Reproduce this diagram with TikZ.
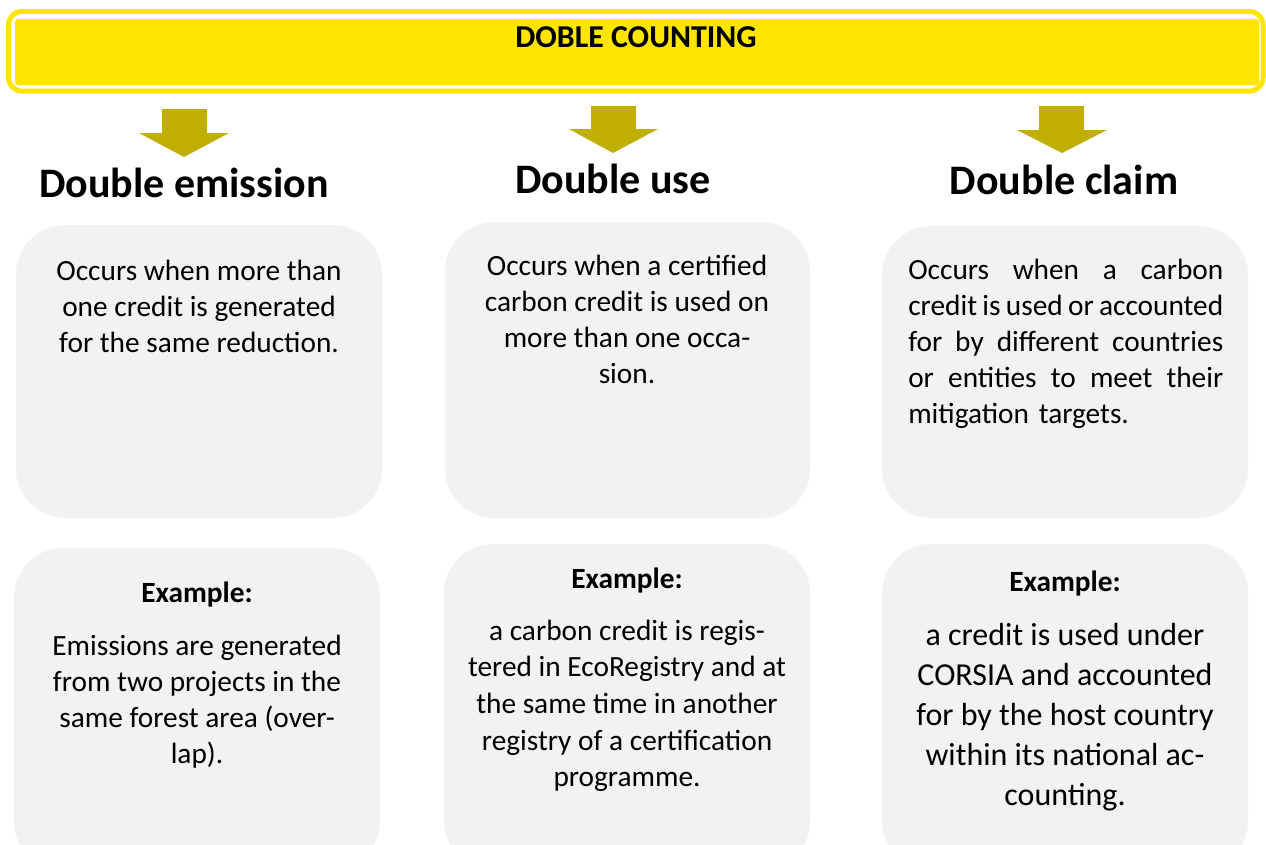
\documentclass[tikz,border=0pt]{standalone}
\usepackage{fontspec}
\setmainfont{Carlito}
\definecolor{banneryellow}{HTML}{FFE500}
\definecolor{arrowgold}{HTML}{C0AF00}
\definecolor{boxgray}{HTML}{F2F2F2}
\newcommand{\tightspaces}{\spaceskip=0.12em plus 1em\relax}
\newcommand{\fullline}[1]{\makebox[\linewidth][s]{\tightspaces #1}}
\tikzset{
  card/.style={fill=boxgray, rounded corners=37pt},
  bodytext/.style={anchor=base, text width=262pt, align=flush center, inner sep=0pt, font=\fontsize{22}{27}\selectfont},
  extext/.style={anchor=base, inner sep=0pt, font=\bfseries\fontsize{22}{26}\selectfont},
  titletext/.style={anchor=base, inner sep=0pt, font=\bfseries\fontsize{31.5}{36}\selectfont},
  blockarrow/.style={fill=arrowgold},
}
\begin{document}
\begin{tikzpicture}[x=0.75pt,y=-0.75pt]
\clip (0,0) rectangle (1266,844);
\fill[white] (0,0) rectangle (1266,844);
% banner
\draw[banneryellow, line width=3.75pt, rounded corners=10pt] (8.5,11.5) rectangle (1263,91);
\fill[banneryellow, rounded corners=2pt] (15,19) rectangle (1259,85);
\node[anchor=base, inner sep=0pt, font=\bfseries\fontsize{23.9}{28}\selectfont] (banner) at (636,47) {DOBLE COUNTING};
% arrows
\fill[blockarrow] (162,109) -- (207,109) -- (207,133) -- (229,133) -- (184,157) -- (139,133) -- (162,133) -- cycle;
\fill[blockarrow] (591,106) -- (636,106) -- (636,129) -- (658,129) -- (613,153) -- (569,129) -- (591,129) -- cycle;
\fill[blockarrow] (1039,106) -- (1084,106) -- (1084,130) -- (1107,130) -- (1062,153) -- (1017,130) -- (1039,130) -- cycle;
% titles
\node[titletext] (t1) at (184,197) {Double emission};
\node[titletext] (t2) at (613,193) {Double use};
\node[titletext] (t3) at (1064,194) {Double claim};
% top cards
\path[card] (16,225) rectangle (382,518);
\path[card] (445,222) rectangle (810,518);
\path[card] (882,226) rectangle (1248,518);
\node[bodytext] (d1) at (199,280) {Occurs when more than\\one credit is generated\\for the same reduction.};
\node[bodytext] (d2) at (627,275) {Occurs when a certified\\carbon credit is used on\\more than one occa-\\sion.};
\node[anchor=base west, inner sep=0pt, text width=236.25pt, align=left, font=\fontsize{22}{27}\selectfont] (d3) at (908,279) {\fullline{Occurs when a carbon}\\\fullline{credit is used or accounted}\\\fullline{for by different countries}\\\fullline{or entities to meet their}\\mitigation targets.};
% bottom cards
\path[card] (14,548) rectangle (380,870);
\path[card] (444,544) rectangle (810,870);
\path[card] (882,544) rectangle (1248,870);
\node[extext] (e1) at (197,602) {Example:};
\node[extext] (e2) at (627,588) {Example:};
\node[extext] (e3) at (1065,591) {Example:};
\node[bodytext] (x1) at (197,655) {Emissions are generated\\from two projects in the\\same forest area (over-\\lap).};
\node[bodytext, font=\fontsize{22}{27.5}\selectfont] (x2) at (627,640) {a carbon credit is regis-\\tered in EcoRegistry and at\\the same time in another\\registry of a certification\\programme.};
\node[bodytext, font=\fontsize{24}{30}\selectfont] (x3) at (1065,645) {a credit is used under\\CORSIA and accounted\\for by the host country\\within its national ac-\\counting.};
\end{tikzpicture}
\end{document}
